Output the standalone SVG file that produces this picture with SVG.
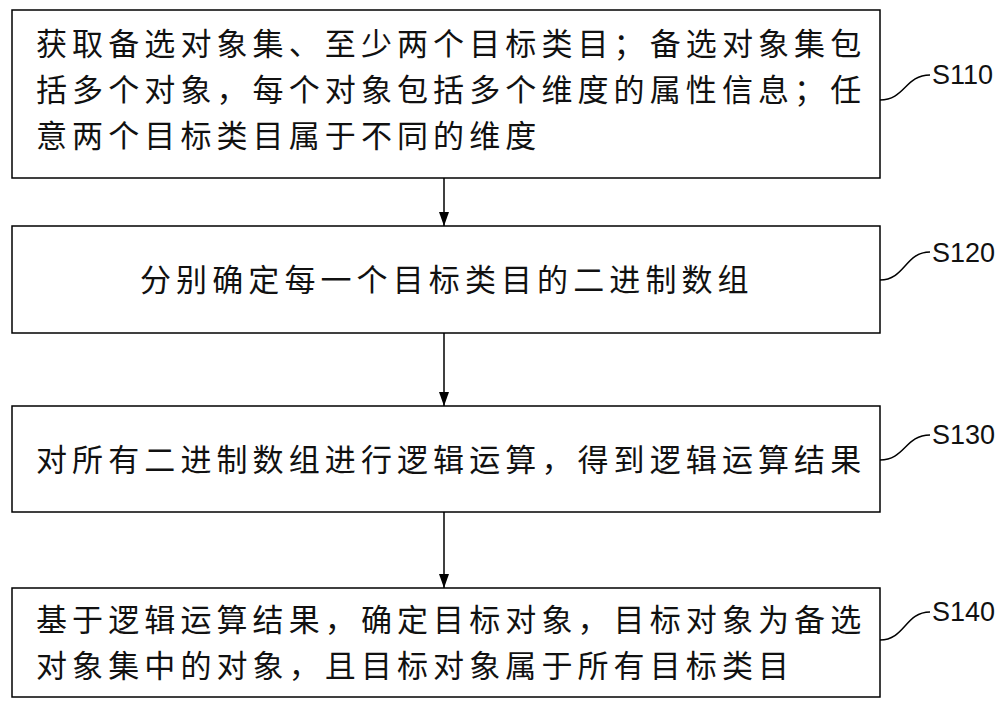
<svg xmlns="http://www.w3.org/2000/svg" width="1000" height="705" viewBox="0 0 1000 705">
<style>
.box{fill:#fff;stroke:#000;stroke-width:1.5}
.t{font-family:"Noto Sans CJK SC","Noto Sans",sans-serif;font-size:31px;fill:#111;letter-spacing:5.1px}
.l{font-family:"Liberation Sans","DejaVu Sans",sans-serif;font-size:27px;fill:#111}
.c{fill:none;stroke:#000;stroke-width:1.5}
</style>
<defs><marker id="a" markerWidth="14" markerHeight="10" refX="14" refY="5" orient="auto" markerUnits="userSpaceOnUse"><path d="M0,0 L14,5 L0,10 Z" fill="#000"/></marker></defs>
<rect width="1000" height="705" fill="#fff"/>
<g id="n1"><rect class="box" x="12" y="10" width="868" height="168"/>
<text class="t" x="36" y="55">获取备选对象集、至少两个目标类目；备选对象集包</text>
<text class="t" x="36" y="101">括多个对象，每个对象包括多个维度的属性信息；任</text>
<text class="t" x="36" y="147">意两个目标类目属于不同的维度</text></g>
<g id="n2"><rect class="box" x="12" y="226" width="868" height="107"/>
<text class="t" x="140" y="291">分别确定每一个目标类目的二进制数组</text></g>
<g id="n3"><rect class="box" x="12" y="406" width="868" height="106"/>
<text class="t" x="36" y="471">对所有二进制数组进行逻辑运算，得到逻辑运算结果</text></g>
<g id="n4"><rect class="box" x="12" y="588" width="868" height="109"/>
<text class="t" x="36" y="631">基于逻辑运算结果，确定目标对象，目标对象为备选</text>
<text class="t" x="36" y="677">对象集中的对象，且目标对象属于所有目标类目</text></g>
<g id="connectors">
<line class="c" x1="444" y1="178" x2="444" y2="226" marker-end="url(#a)"/>
<line class="c" x1="444" y1="333" x2="444" y2="406" marker-end="url(#a)"/>
<line class="c" x1="444" y1="512" x2="444" y2="588" marker-end="url(#a)"/>
<path class="c" d="M880,100 C905,100 905,75 930,75"/>
<path class="c" d="M880,280 C905,280 905,252 930,252"/>
<path class="c" d="M880,460 C905,460 905,435 930,435"/>
<path class="c" d="M880,640 C905,640 905,612 930,612"/>
</g>
<text class="l" x="932" y="84">S110</text>
<text class="l" x="932" y="262">S120</text>
<text class="l" x="932" y="444">S130</text>
<text class="l" x="932" y="621">S140</text>
</svg>
